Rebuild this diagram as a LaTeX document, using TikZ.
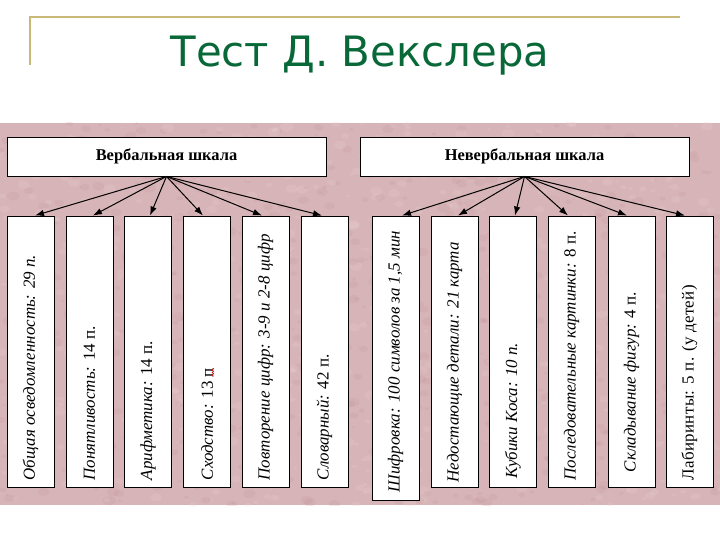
\documentclass[tikz,border=0pt]{standalone}
\usepackage{fontspec}
\setmainfont{Liberation Serif}
\newfontfamily\titlefont{DejaVu Sans}
\usetikzlibrary{arrows.meta,decorations.pathmorphing}
\definecolor{pinkbg}{RGB}{215,180,184}
\definecolor{pinkdk}{RGB}{196,150,156}
\definecolor{pinklt}{RGB}{232,206,208}
\definecolor{titlegreen}{RGB}{8,104,56}
\definecolor{goldline}{RGB}{201,184,120}
\tikzset{
  headbox/.style={draw=black, line width=0.9bp, fill=white, minimum height=39bp, font=\fontsize{16.5}{19}\selectfont\bfseries},
  subbox/.style={draw=black, line width=0.9bp, fill=white, minimum width=47bp, minimum height=271bp, inner sep=0pt},
  vlabel/.style={rotate=90, anchor=west, inner sep=0pt, font=\fontsize{17}{20}\selectfont},
  conn/.style={line width=1bp, -{Latex[length=9bp,width=6.5bp]}},
  titlestyle/.style={anchor=base, text=titlegreen, font=\titlefont\fontsize{42}{50}\selectfont}
}
\begin{document}
\begin{tikzpicture}[x=1bp,y=-1bp]
\useasboundingbox (0,0) rectangle (720,540);
% title
\draw[goldline, line width=1.6bp] (30,65) -- (30,17) -- (680,17);
\node[titlestyle] (title) at (360,67) {Тест Д. Векслера};
% pink background
\fill[pinkbg] (0,123) rectangle (720,505);
\begin{scope}
\clip (0,123) rectangle (720,505);
\pgfmathsetseed{7}
\foreach \i in {1,...,1400}{
  \pgfmathsetmacro{\px}{rnd*720}
  \pgfmathsetmacro{\py}{123+rnd*382}
  \pgfmathsetmacro{\pr}{1+rnd*3.5}
  \pgfmathsetmacro{\pc}{rnd}
  \ifdim\pc pt<0.5pt
    \fill[pinkdk, opacity=0.22] (\px,\py) ellipse ({\pr*1.5} and \pr);
  \else
    \fill[pinklt, opacity=0.25] (\px,\py) ellipse ({\pr*1.5} and \pr);
  \fi
}
\end{scope}
% head boxes
\node[headbox, minimum width=319bp] (V) at (166.5,156.5) {Вербальная шкала};
\node[headbox, minimum width=329bp] (N) at (524.5,156.5) {Невербальная шкала};
% verbal sub boxes
\node[subbox] (v1) at (30.5,351.5) {};
\node[subbox] (v2) at (89.5,351.5) {};
\node[subbox] (v3) at (148,351.5) {};
\node[subbox] (v4) at (207,351.5) {};
\node[subbox] (v5) at (265.5,351.5) {};
\node[subbox] (v6) at (324.5,351.5) {};
% nonverbal sub boxes
\node[subbox, minimum height=284bp] (n1) at (395.5,358) {};
\node[subbox] (n2) at (454.5,351.5) {};
\node[subbox] (n3) at (513,351.5) {};
\node[subbox] (n4) at (571.5,351.5) {};
\node[subbox] (n5) at (631.5,351.5) {};
\node[subbox] (n6) at (689.5,351.5) {};
% labels
\node[vlabel] (v1t) at ([yshift=7bp]v1.south) {\itshape Общая осведомленность: 29 п.};
\node[vlabel] (v2t) at ([yshift=7bp]v2.south) {\itshape Понятливость: \upshape 14 п.};
\node[vlabel] (v3t) at ([yshift=7bp]v3.south) {\itshape Арифметика: \upshape 14 п.};
\node[vlabel] (v4t) at ([yshift=7bp]v4.south) {\itshape Сходство: \upshape 13 п};
\node[vlabel] (v5t) at ([yshift=7bp]v5.south) {\itshape Повторение цифр: 3-9 и 2-8 цифр};
\node[vlabel] (v6t) at ([yshift=7bp]v6.south) {\itshape Словарный: \upshape 42 п.};
\node[vlabel] (n1t) at ([yshift=8bp]n1.south) {\itshape Шифровка: 100 символов за 1,5 мин};
\node[vlabel] (n2t) at ([yshift=5bp]n2.south) {\itshape Недостающие детали: 21 карта};
\node[vlabel] (n3t) at ([yshift=9bp]n3.south) {\itshape Кубики Коса: 10 п.};
\node[vlabel] (n4t) at ([yshift=7bp]n4.south) {\itshape Последовательные картинки: \upshape 8 п.};
\node[vlabel] (n5t) at ([yshift=15bp]n5.south) {\itshape Складывание фигур: \upshape 4 п.};
\node[vlabel] (n6t) at ([yshift=7bp]n6.south) {\addfontfeature{LetterSpace=2}Лабиринты: 5 п. (у детей)};
% spell-check squiggle
\draw[red, line width=0.5bp, decorate, decoration={snake, amplitude=0.8bp, segment length=2.5bp}] ([xshift=6bp]v4t.east) -- ([xshift=6bp,yshift=-9bp]v4t.east);
% connectors
\draw[conn] (V.south) -- ([xshift=4.5bp]v1.north);
\draw[conn] (V.south) -- ([xshift=3.5bp]v2.north);
\draw[conn] (V.south) -- ([xshift=2bp]v3.north);
\draw[conn] (V.south) -- ([xshift=-4bp]v4.north);
\draw[conn] (V.south) -- ([xshift=-3.5bp]v5.north);
\draw[conn] (V.south) -- ([xshift=-2.5bp]v6.north);
\draw[conn] (N.south) -- ([xshift=6.5bp]n1.north);
\draw[conn] (N.south) -- ([xshift=3.5bp]n2.north);
\draw[conn] (N.south) -- ([xshift=2bp]n3.north);
\draw[conn] (N.south) -- ([xshift=-3.5bp]n4.north);
\draw[conn] (N.south) -- ([xshift=-4.5bp]n5.north);
\draw[conn] (N.south) -- ([xshift=-4.5bp]n6.north);
\end{tikzpicture}
\end{document}
